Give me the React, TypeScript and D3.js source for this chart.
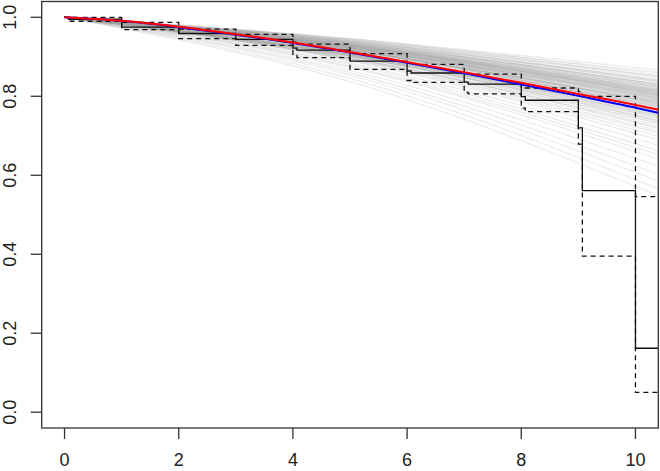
import React from "react";
import * as d3 from "d3";

// Kaplan-Meier estimate with pointwise confidence limits
const kmTime = [0, 0.07, 1, 2, 3, 4, 4.07, 5, 6, 6.07, 7, 7.07, 8, 8.07, 9, 9.07, 10];
const kmSurv = [1.0, 0.995, 0.975, 0.959, 0.944, 0.922, 0.917, 0.889, 0.864, 0.859, 0.836, 0.831, 0.799, 0.79, 0.72, 0.561, 0.162];
const kmUpper = [1.0, 1.0, 0.987, 0.97, 0.957, 0.937, 0.932, 0.908, 0.884, 0.881, 0.859, 0.856, 0.823, 0.821, 0.812, 0.8, 0.546];
const kmLower = [1.0, 0.99, 0.969, 0.946, 0.929, 0.904, 0.898, 0.868, 0.84, 0.835, 0.81, 0.806, 0.77, 0.761, 0.679, 0.395, 0.05];
const kmEnd = 10.6;

// Fitted parametric survival curves
const fitTime = [0, 1, 2, 3, 4, 5, 6, 7, 8, 9, 10, 10.4];
const redSurv = [1, 0.991, 0.976, 0.957, 0.936, 0.912, 0.887, 0.861, 0.834, 0.806, 0.778, 0.766];
const blueSurv = [1, 0.991, 0.975, 0.956, 0.935, 0.911, 0.885, 0.858, 0.83, 0.801, 0.771, 0.758];

// Posterior draws: survival at t = 5.2 and at t = 10.4
const drawKnots = [0, 5.2, 10.4];
const drawMid = [
  0.9056, 0.9113, 0.8989, 0.9179, 0.8985, 0.9187, 0.9025, 0.8967, 0.9066, 0.9259,
  0.9007, 0.913, 0.8901, 0.9116, 0.8998, 0.9029, 0.9244, 0.8959, 0.9124, 0.9012,
  0.9217, 0.8921, 0.8998, 0.9123, 0.8963, 0.9105, 0.9278, 0.8873, 0.9034, 0.9174,
  0.8953, 0.9136, 0.8913, 0.9173, 0.9049, 0.8836, 0.9125, 0.8916, 0.9213, 0.9007,
  0.9348, 0.8777, 0.9181, 0.8895, 0.9313, 0.8735, 0.9132, 0.8663, 0.9375, 0.8585,
  0.9257, 0.8517, 0.9403, 0.8458, 0.8972, 0.837, 0.943, 0.8286, 0.8857, 0.8692,
  0.9099, 0.9129, 0.9155, 0.9168, 0.9185, 0.9194, 0.9211, 0.9224, 0.9232, 0.9237,
  0.9249, 0.9258, 0.9266, 0.9275, 0.9283, 0.93, 0.9312, 0.9325, 0.9337, 0.9354,
  0.9367, 0.9379, 0.94, 0.9416, 0.9436, 0.9138, 0.9177, 0.9215, 0.9245, 0.9275,
  0.9304, 0.9333, 0.9198, 0.9228, 0.9253, 0.9287, 0.9151, 0.932, 0.9362, 0.9215,
];
const drawEnd = [
  0.765, 0.771, 0.758, 0.78, 0.749, 0.792, 0.762, 0.737, 0.775, 0.803,
  0.754, 0.768, 0.726, 0.786, 0.744, 0.759, 0.812, 0.731, 0.777, 0.763,
  0.796, 0.718, 0.752, 0.784, 0.74, 0.769, 0.823, 0.707, 0.76, 0.789,
  0.746, 0.773, 0.733, 0.799, 0.756, 0.69, 0.781, 0.721, 0.808, 0.75,
  0.842, 0.676, 0.794, 0.712, 0.831, 0.662, 0.779, 0.641, 0.851, 0.623,
  0.815, 0.603, 0.86, 0.585, 0.738, 0.566, 0.866, 0.548, 0.699, 0.652,
  0.775, 0.782, 0.788, 0.791, 0.795, 0.797, 0.801, 0.804, 0.806, 0.807,
  0.81, 0.812, 0.814, 0.816, 0.818, 0.822, 0.825, 0.828, 0.831, 0.835,
  0.838, 0.841, 0.846, 0.85, 0.855, 0.784, 0.793, 0.802, 0.809, 0.816,
  0.823, 0.83, 0.798, 0.805, 0.811, 0.819, 0.787, 0.827, 0.837, 0.802,
];

const xTicks = [0, 2, 4, 6, 8, 10];
const yTicks = [0, 0.2, 0.4, 0.6, 0.8, 1.0];
const yTickLabels = ["0.0", "0.2", "0.4", "0.6", "0.8", "1.0"];

const W = 660;
const H = 471;
const left = 41.7, right = 658.3, top = 1.5, bottom = 428;

export default function App() {
  const x = d3.scaleLinear().domain([-0.4, 10.4]).range([left, right]);
  const y = d3.scaleLinear().domain([-0.04, 1.04]).range([bottom, top]);

  const step = d3
    .line<[number, number]>()
    .x((d) => x(d[0]))
    .y((d) => y(d[1]))
    .curve(d3.curveStepAfter);
  const smooth = d3
    .line<[number, number]>()
    .x((d) => x(d[0]))
    .y((d) => y(d[1]))
    .curve(d3.curveMonotoneX);

  const stepPts = (vals: number[]) => {
    const pts: [number, number][] = kmTime.map((t, i) => [t, vals[i]]);
    pts.push([kmEnd, vals[vals.length - 1]]);
    return pts;
  };

  const font = "'Liberation Sans', Arial, Helvetica, sans-serif";

  return (
    <svg
      width={W}
      height={H}
      style={{ position: "absolute", left: 0, top: 0, background: "#fff" }}
    >
      <defs>
        <clipPath id="plotclip">
          <rect x={left} y={top} width={right - left} height={bottom - top} />
        </clipPath>
      </defs>
      <g clipPath="url(#plotclip)">
        {drawEnd.map((e, i) => (
          <path
            key={i}
            d={smooth([
              [drawKnots[0], 1],
              [drawKnots[1], drawMid[i]],
              [drawKnots[2], e],
            ]) || ""}
            fill="none"
            stroke="#a4a4a4"
            strokeOpacity={0.24}
            strokeWidth={1.1}
          />
        ))}
        <path d={step(stepPts(kmUpper)) || ""} fill="none" stroke="#111" strokeWidth={1.3} strokeDasharray="5,4" />
        <path d={step(stepPts(kmLower)) || ""} fill="none" stroke="#111" strokeWidth={1.3} strokeDasharray="5,4" />
        <path d={step(stepPts(kmSurv)) || ""} fill="none" stroke="#111" strokeWidth={1.3} />
        <path
          d={smooth(fitTime.map((t, i) => [t, blueSurv[i]] as [number, number])) || ""}
          fill="none"
          stroke="#0000ff"
          strokeWidth={2}
        />
        <path
          d={smooth(fitTime.map((t, i) => [t, redSurv[i]] as [number, number])) || ""}
          fill="none"
          stroke="#ff0000"
          strokeWidth={2}
        />
      </g>
      <rect x={left} y={top} width={right - left} height={bottom - top} fill="none" stroke="#333" strokeWidth={1.3} />
      {xTicks.map((t) => (
        <g key={"x" + t}>
          <line x1={x(t)} x2={x(t)} y1={bottom} y2={bottom + 11} stroke="#333" strokeWidth={1.3} />
          <text x={x(t)} y={466} textAnchor="middle" fontFamily={font} fontSize={18} fill="#222">
            {String(t)}
          </text>
        </g>
      ))}
      {yTicks.map((v, i) => (
        <g key={"y" + i}>
          <line x1={left - 11} x2={left} y1={y(v)} y2={y(v)} stroke="#333" strokeWidth={1.3} />
          <text
            transform={`translate(15.5,${y(v)}) rotate(-90)`}
            textAnchor="middle"
            fontFamily={font}
            fontSize={18}
            fill="#222"
          >
            {yTickLabels[i]}
          </text>
        </g>
      ))}
    </svg>
  );
}
